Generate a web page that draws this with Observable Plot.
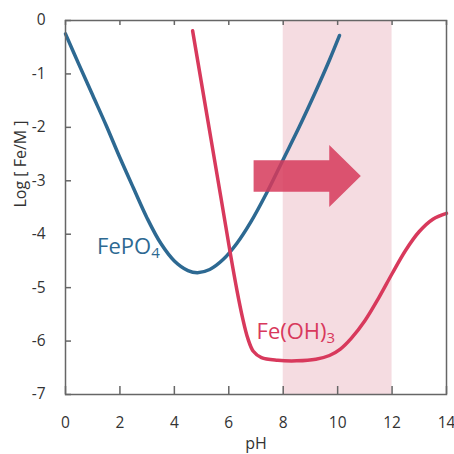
<!DOCTYPE html>
<html>
<head>
<meta charset="utf-8">
<script src="https://cdn.jsdelivr.net/npm/d3@7"></script>
<script src="https://cdn.jsdelivr.net/npm/@observablehq/plot@0.6"></script>
<style>
  html, body { margin: 0; padding: 0; background: #fff; }
  #chart { width: 454px; height: 454px; overflow: hidden; }
</style>
</head>
<body>
<div id="chart"></div>
<script>
// ---- data ----
const xTicks = [0, 2, 4, 6, 8, 10, 12, 14];
const yTicks = [0, -1, -2, -3, -4, -5, -6, -7];

const fePO4_pH  = [0, 0.5, 1, 1.5, 2, 2.5, 3, 3.5, 4, 4.5, 4.85, 5.3, 5.8, 6.3, 6.8, 7.4, 8.0, 8.6, 9.2, 9.7, 10.07];
const fePO4_log = [-0.25, -0.83, -1.4, -1.97, -2.57, -3.14, -3.7, -4.17, -4.5, -4.68, -4.72, -4.66, -4.47, -4.17, -3.78, -3.22, -2.6, -1.98, -1.32, -0.74, -0.28];

const feOH3_pH  = [4.67, 5.2, 5.7, 6.04, 6.3, 6.5, 6.7, 6.9, 7.2, 7.8, 8.5, 9.2, 9.7, 10.1, 10.5, 11.0, 11.5, 12.0, 12.5, 13.0, 13.5, 14];
const feOH3_log = [-0.19, -1.78, -3.28, -4.31, -5.05, -5.55, -5.95, -6.19, -6.31, -6.36, -6.37, -6.34, -6.27, -6.15, -5.95, -5.62, -5.2, -4.74, -4.3, -3.95, -3.72, -3.61];

const bandPH = [8, 12];                 // shaded pH window
const arrowPH = [6.93, 9.71, 10.87];    // tail, head base, tip
const arrowLog = [-2.92];               // arrow axis
const arrowShaftHalf = 0.295;           // half thickness of the shaft (log units)
const arrowHeadHalf = 0.58;             // half height of the head (log units)

const labelNames = ["FePO", "Fe(OH)"];
const labelSubs  = ["4", "3"];
const labelPH    = [1.16, 7.02];
const labelLog   = [-4.23, -5.82];

const xLabel = "pH";
const yLabel = "Log [ Fe/M ]";

// ---- build tables ----
const blue = "#2d6992";
const red = "#d8395c";
const fePO4 = fePO4_pH.map((x, i) => ({x, y: fePO4_log[i]}));
const feOH3 = feOH3_pH.map((x, i) => ({x, y: feOH3_log[i]}));
const band = [{x1: bandPH[0], x2: bandPH[1]}];
const ay = arrowLog[0];
const arrow = [
  {x: arrowPH[0], y1: ay + arrowShaftHalf, y2: ay - arrowShaftHalf},
  {x: arrowPH[1], y1: ay + arrowShaftHalf, y2: ay - arrowShaftHalf},
  {x: arrowPH[1], y1: ay + arrowHeadHalf, y2: ay - arrowHeadHalf},
  {x: arrowPH[2], y1: ay, y2: ay}
];
const labels = labelNames.map((t, i) => ({t, x: labelPH[i], y: labelLog[i], c: i === 0 ? blue : red}));

const chart = Plot.plot({
  width: 454,
  height: 454,
  marginLeft: 65,
  marginRight: 8,
  marginTop: 20,
  marginBottom: 60,
  style: {fontFamily: "'Open Sans', sans-serif", fontSize: "15px", color: "#333", background: "#fff"},
  x: {domain: [0, 14], ticks: xTicks},
  y: {domain: [-7, 0], ticks: yTicks},
  marks: [
    Plot.rect(band, {x1: "x1", x2: "x2", fill: "#f5dce1"}),
    Plot.line(fePO4, {x: "x", y: "y", stroke: blue, strokeWidth: 3.5, curve: "catmull-rom"}),
    Plot.line(feOH3, {x: "x", y: "y", stroke: red, strokeWidth: 3.5, curve: "catmull-rom"}),
    Plot.areaY(arrow, {x: "x", y1: "y1", y2: "y2", fill: "#d63a5b", fillOpacity: 0.85, curve: "linear"}),
    Plot.text(labels, {x: "x", y: "y", text: "t", fill: "c", textAnchor: "start", lineAnchor: "middle", fontSize: 22}),
    Plot.axisX({ticks: xTicks, tickSize: 0, tickPadding: 22, tickFormat: d => String(d), label: null, fontSize: 15.5}),
    Plot.axisY({ticks: yTicks, tickSize: 0, tickPadding: 20, tickFormat: d => String(d), label: null, fontSize: 15.5}),
    Plot.tickX(xTicks, {x: d => d, insetTop: 366, stroke: "#666", strokeWidth: 1.5}),
    Plot.tickX(xTicks, {x: d => d, insetBottom: 369, stroke: "#666", strokeWidth: 1.5}),
    Plot.tickY(yTicks, {y: d => d, insetRight: 375, stroke: "#666", strokeWidth: 1.5}),
    Plot.frame({stroke: "#666", strokeWidth: 1.5}),
    Plot.text([xLabel], {frameAnchor: "bottom", dy: 54, text: d => d, fontSize: 16, fill: "#333"}),
    Plot.text([yLabel], {frameAnchor: "left", dx: -45, rotate: -90, text: d => d, fontSize: 16, fill: "#333"})
  ]
});

// add subscripts as real tspans
chart.querySelectorAll("text").forEach(el => {
  const i = labelNames.indexOf(el.textContent);
  if (i >= 0) {
    const ts = document.createElementNS("http://www.w3.org/2000/svg", "tspan");
    ts.setAttribute("font-size", "15");
    ts.setAttribute("dy", "0.3em");
    ts.textContent = labelSubs[i];
    el.appendChild(ts);
  }
});

document.getElementById("chart").appendChild(chart);
</script>
</body>
</html>
